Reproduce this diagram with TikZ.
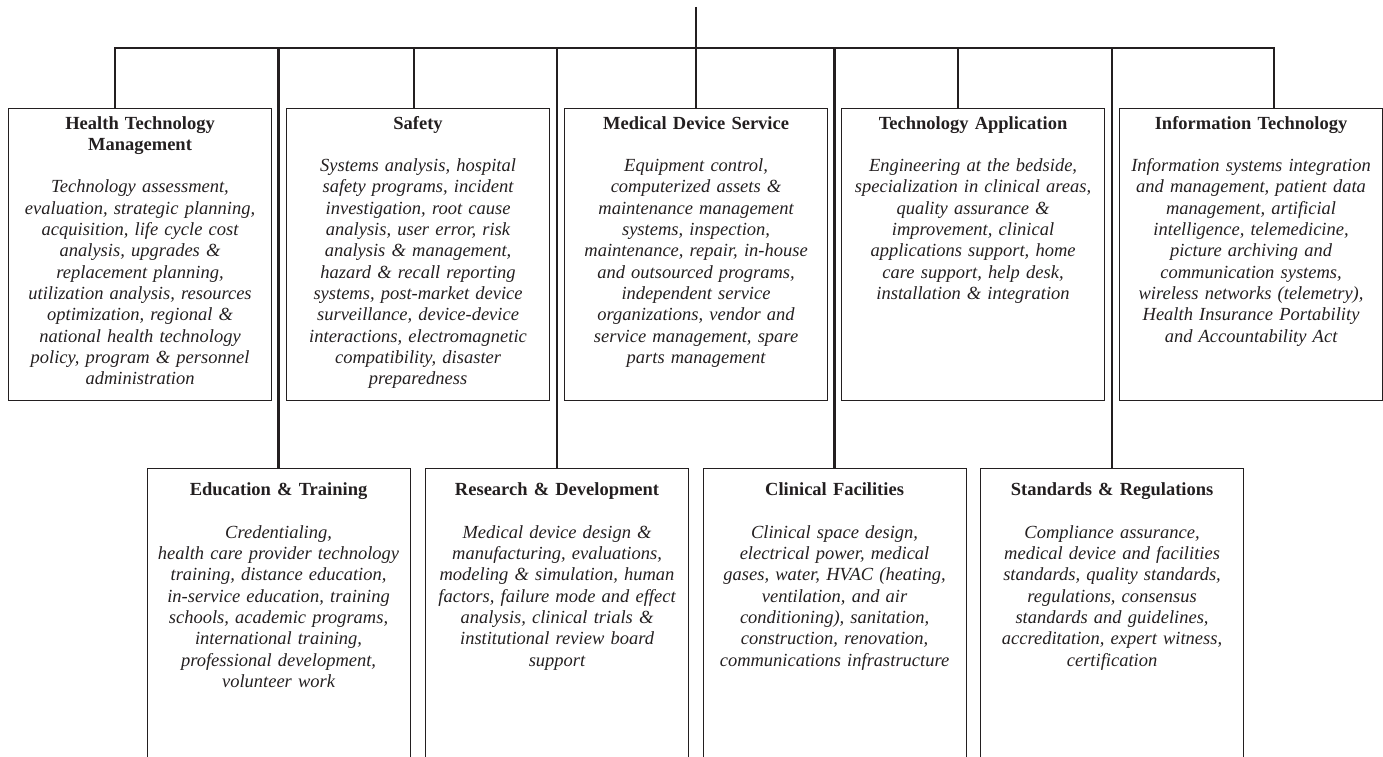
\documentclass[tikz,border=0pt]{standalone}
\usepackage{fontspec}
\setmainfont{Liberation Serif}
\definecolor{ink}{RGB}{35,31,32}
\begin{document}
\begin{tikzpicture}[x=1pt,y=-1pt,
  box/.style={draw=ink,line width=1.1pt,minimum width=263pt,inner sep=0pt,anchor=north west},
  topbox/.style={box,minimum height=292pt},
  lowbox/.style={box,minimum height=330pt},
  txt/.style={text=ink,text width=262pt,align=center,inner sep=0pt,anchor=base,
    font=\fontsize{18.5}{21.3}\selectfont},
  conn/.style={draw=ink,line width=2.6pt,line join=miter}]

\useasboundingbox (0,0) rectangle (1383,757);
\clip (0,0) rectangle (1383,757);

% upper row of boxes
\node[topbox] (htm) at (8,108) {};
\node[topbox] (saf) at (286,108) {};
\node[topbox] (mds) at (564,108) {};
\node[topbox] (tap) at (841,108) {};
\node[topbox] (itc) at (1119,108) {};

% lower row of boxes (running off the page)
\node[lowbox] (edu) at (146.5,468) {};
\node[lowbox] (rnd) at (425,468) {};
\node[lowbox] (cfa) at (702.5,468) {};
\node[lowbox] (sar) at (980,468) {};

% box texts
\node[txt] (htm-t) at ([yshift=-21pt]htm.north) {\bfseries Health Technology\\Management\\[21.3pt]
  \mdseries\itshape Technology assessment,\\evaluation, strategic planning,\\acquisition, life cycle cost\\
  analysis, upgrades \&\\replacement planning,\\utilization analysis, resources\\optimization, regional \&\\
  national health technology\\policy, program \& personnel\\administration};
\node[txt] (saf-t) at ([yshift=-21pt]saf.north) {\bfseries Safety\\[21.3pt]
  \mdseries\itshape Systems analysis, hospital\\safety programs, incident\\investigation, root cause\\
  analysis, user error, risk\\analysis \& management,\\hazard \& recall reporting\\systems, post-market device\\
  surveillance, device-device\\interactions, electromagnetic\\compatibility, disaster\\preparedness};
\node[txt] (mds-t) at ([yshift=-21pt]mds.north) {\bfseries Medical Device Service\\[21.3pt]
  \mdseries\itshape Equipment control,\\computerized assets \&\\maintenance management\\systems, inspection,\\
  maintenance, repair, in-house\\and outsourced programs,\\independent service\\organizations, vendor and\\
  service management, spare\\parts management};
\node[txt] (tap-t) at ([yshift=-21pt]tap.north) {\bfseries Technology Application\\[21.3pt]
  \mdseries\itshape Engineering at the bedside,\\specialization in clinical areas,\\quality assurance \&\\
  improvement, clinical\\applications support, home\\care support, help desk,\\installation \& integration};
\node[txt] (itc-t) at ([yshift=-21pt]itc.north) {\bfseries Information Technology\\[21.3pt]
  \mdseries\itshape Information systems integration\\and management, patient data\\management, artificial\\
  intelligence, telemedicine,\\picture archiving and\\communication systems,\\wireless networks (telemetry),\\
  Health Insurance Portability\\and Accountability Act};

\node[txt] (edu-t) at ([yshift=-27.6pt]edu.north) {\bfseries Education \& Training\\[21.3pt]
  \mdseries\itshape Credentialing,\\health care provider technology\\training, distance education,\\
  in-service education, training\\schools, academic programs,\\international training,\\
  professional development,\\volunteer work};
\node[txt] (rnd-t) at ([yshift=-27.6pt]rnd.north) {\bfseries Research \& Development\\[21.3pt]
  \mdseries\itshape Medical device design \&\\manufacturing, evaluations,\\modeling \& simulation, human\\
  factors, failure mode and effect\\analysis, clinical trials \&\\institutional review board\\support};
\node[txt] (cfa-t) at ([yshift=-27.6pt]cfa.north) {\bfseries Clinical Facilities\\[21.3pt]
  \mdseries\itshape Clinical space design,\\electrical power, medical\\gases, water, HVAC (heating,\\
  ventilation, and air\\conditioning), sanitation,\\construction, renovation,\\communications infrastructure};
\node[txt] (sar-t) at ([yshift=-27.6pt]sar.north) {\bfseries Standards \& Regulations\\[21.3pt]
  \mdseries\itshape Compliance assurance,\\medical device and facilities\\standards, quality standards,\\
  regulations, consensus\\standards and guidelines,\\accreditation, expert witness,\\certification};

% trunk and bus
\coordinate (root) at (696,7);
\coordinate (hub) at (696,48);
\coordinate (b1) at (115,48);
\coordinate (b2) at (414,48);
\coordinate (b3) at (696,48);
\coordinate (b4) at (958,48);
\coordinate (b5) at (1274,48);

\draw[conn] (root) -- (hub);
\draw[conn] (b1 |- htm.north) -- (b1) -- (b5) -- (b5 |- itc.north);
\draw[conn] (b2) -- (b2 |- saf.north);
\draw[conn] (b3) -- (b3 |- mds.north);
\draw[conn] (b4) -- (b4 |- tap.north);

\draw[conn] (edu.north |- hub) -- (edu.north);
\draw[conn] (rnd.north |- hub) -- (rnd.north);
\draw[conn] (cfa.north |- hub) -- (cfa.north);
\draw[conn] (sar.north |- hub) -- (sar.north);
\end{tikzpicture}
\end{document}
